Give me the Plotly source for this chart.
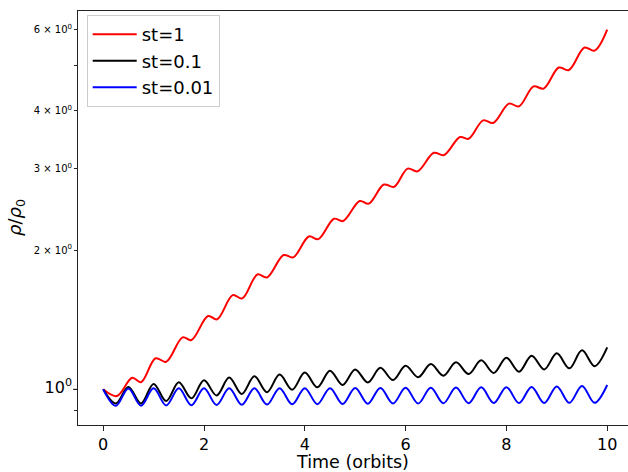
import plotly.graph_objects as go

# st=1 (red): times and values of the wiggles
t_red = [0.00, 0.27, 0.575, 0.75, 1.04, 1.25, 1.575, 1.75, 2.08, 2.26, 2.57, 2.76,
         3.06, 3.25, 3.58, 3.77, 4.08, 4.27, 4.58, 4.76, 5.09, 5.27, 5.57, 5.77,
         6.04, 6.24, 6.56, 6.76, 7.08, 7.25, 7.54, 7.74, 8.05, 8.25, 8.54, 8.74,
         9.04, 9.24, 9.55, 9.75, 10.0]
v_red = [1.000, 0.967, 1.059, 1.036, 1.167, 1.147, 1.295, 1.278, 1.440, 1.417, 1.598, 1.572,
         1.771, 1.745, 1.951, 1.928, 2.140, 2.112, 2.337, 2.311, 2.552, 2.520, 2.771, 2.739,
         3.000, 2.960, 3.245, 3.207, 3.510, 3.480, 3.814, 3.765, 4.145, 4.089, 4.515, 4.467,
         4.960, 4.900, 5.480, 5.395, 5.990]

# st=0.1 and st=0.01: peaks and troughs every quarter orbit
t_osc = [0.00, 0.25, 0.50, 0.75, 1.00, 1.25, 1.50, 1.75, 2.00, 2.25, 2.50, 2.75,
         3.00, 3.25, 3.50, 3.75, 4.00, 4.25, 4.50, 4.75, 5.00, 5.25, 5.50, 5.75,
         6.00, 6.25, 6.50, 6.75, 7.00, 7.25, 7.50, 7.75, 8.00, 8.25, 8.50, 8.75,
         9.00, 9.25, 9.50, 9.75, 10.00]
v_black = [1.000, 0.932, 1.012, 0.932, 1.027, 0.943, 1.036, 0.956, 1.046, 0.970, 1.060, 0.977,
           1.067, 0.986, 1.076, 0.998, 1.087, 1.010, 1.097, 1.022, 1.104, 1.035, 1.113, 1.047,
           1.124, 1.062, 1.134, 1.070, 1.144, 1.079, 1.155, 1.085, 1.170, 1.092, 1.182, 1.104,
           1.196, 1.110, 1.214, 1.122, 1.232]
v_blue = [1.000, 0.921, 1.004, 0.922, 1.005, 0.923, 1.005, 0.924, 1.005, 0.925, 1.005, 0.926,
          1.005, 0.927, 1.006, 0.928, 1.006, 0.929, 1.006, 0.930, 1.007, 0.931, 1.007, 0.932,
          1.008, 0.932, 1.008, 0.933, 1.009, 0.933, 1.010, 0.934, 1.011, 0.934, 1.012, 0.934,
          1.014, 0.935, 1.017, 0.935, 1.022]

x_ticks = [0, 2, 4, 6, 8, 10]
y_ticks = [1, 2, 3, 4, 6]
y_ticktext = ['<span style="font-size:16px">10<sup>0</sup></span>',
              '2 × 10<sup>0</sup>', '3 × 10<sup>0</sup>', '4 × 10<sup>0</sup>', '6 × 10<sup>0</sup>']
y_minor = [0.9, 5]

FONT = "DejaVu Sans"

fig = go.Figure()
fig.add_trace(go.Scatter(x=t_red, y=v_red, mode="lines", name="st=1",
                         line=dict(color="#ff0000", width=2, shape="spline", smoothing=1)))
fig.add_trace(go.Scatter(x=t_osc, y=v_black, mode="lines", name="st=0.1",
                         line=dict(color="#000000", width=2, shape="spline", smoothing=1)))
fig.add_trace(go.Scatter(x=t_osc, y=v_blue, mode="lines", name="st=0.01",
                         line=dict(color="#0000ff", width=2, shape="spline", smoothing=1)))

fig.update_layout(
    width=628, height=472,
    margin=dict(l=78, r=0, t=11, b=47),
    plot_bgcolor="white", paper_bgcolor="white",
    font=dict(family=FONT, color="black"),
    legend=dict(x=0.0158, y=0.99, xanchor="left", yanchor="top",
                bgcolor="rgba(255,255,255,0.8)", bordercolor="#cccccc", borderwidth=1,
                font=dict(size=18, family=FONT), tracegroupgap=0, itemwidth=44),
    xaxis=dict(range=[-0.5, 10.413], tickmode="array", tickvals=x_ticks,
               ticks="outside", ticklen=5, tickwidth=1, tickcolor="#222",
               showline=True, linecolor="#222", linewidth=1, mirror=True,
               showgrid=False, zeroline=False, automargin=False,
               tickfont=dict(size=16, family=FONT),
               title=dict(text="Time (orbits)", font=dict(size=17.5, family=FONT), standoff=5)),
    yaxis=dict(type="log", range=[-0.0771, 0.8177], tickmode="array",
               tickvals=y_ticks, ticktext=y_ticktext,
               ticks="outside", ticklen=3, tickwidth=1, tickcolor="#222",
               minor=dict(tickmode="array", tickvals=y_minor, ticks="outside", ticklen=3,
                          tickwidth=1, tickcolor="#222", showgrid=False),
               showline=True, linecolor="#222", linewidth=1, mirror=False,
               showgrid=False, zeroline=False, automargin=False,
               tickfont=dict(size=10, family=FONT)),
    shapes=[dict(type="line", xref="paper", yref="paper", x0=-5 / 550, x1=0,
                 y0=0.0862, y1=0.0862, line=dict(color="#222", width=1))],
    annotations=[dict(text="<i>ρ</i>/<i>ρ</i><sub>0</sub>", xref="paper", yref="paper",
                      x=-62 / 550, y=0.5, xanchor="center", yanchor="middle",
                      textangle=-90, showarrow=False, font=dict(size=18, family=FONT))],
)

fig.write_html("out.html", config={"displayModeBar": False},
               post_script="document.body.style.margin='0px';")
